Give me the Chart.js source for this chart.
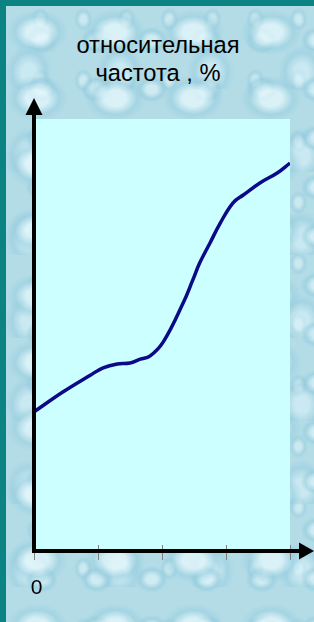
<!DOCTYPE html>
<html>
<head>
<meta charset="utf-8">
<script src="https://cdn.jsdelivr.net/npm/chart.js@4/dist/chart.umd.min.js"></script>
<style>
  html, body { margin: 0; padding: 0; }
  body { width: 314px; height: 622px; background: #0b8383; position: relative; overflow: hidden; }
  /* water-drop backdrop */
  #backdrop {
    position: absolute; left: 6px; top: 6px; right: 0; bottom: 0;
    background-color: #b3dce7;
    background-image:
      radial-gradient(ellipse 40% 35% at 40% 40%, rgba(230,248,252,0.75) 0 35%, rgba(150,205,222,0.5) 70%, transparent 100%),
      radial-gradient(ellipse 30% 28% at 65% 70%, rgba(225,246,250,0.6) 0 30%, rgba(140,198,218,0.45) 70%, transparent 100%),
      radial-gradient(ellipse 26% 34% at 25% 80%, rgba(220,244,250,0.55) 0 30%, rgba(145,200,220,0.4) 70%, transparent 100%),
      radial-gradient(ellipse 22% 20% at 80% 22%, rgba(225,246,250,0.5) 0 30%, rgba(140,198,218,0.35) 70%, transparent 100%);
    background-size: 78px 66px, 55px 49px, 91px 83px, 43px 61px;
  }
  .title {
    position: absolute; left: 6px; right: 0; text-align: center; padding-right: 4px;
    font-family: "Liberation Sans", Arial, sans-serif;
    font-size: 23.7px; color: #000; white-space: pre; line-height: 1;
  }
  #chart { position: absolute; left: 0; top: 0; }
</style>
</head>
<body>
<div id="backdrop"></div>
<div class="title" style="top:34px;">относительная</div>
<div class="title" style="top:62px;">частота , %</div>
<canvas id="chart" width="314" height="622"></canvas>
<script>
'use strict';

// ── Data ──────────────────────────────────────────────────────
const xValues = [0, 0.45, 0.88, 1.08, 1.30, 1.50, 1.66, 1.81, 2.02, 2.33, 2.48, 2.59, 2.75, 2.91, 3.11, 3.27, 3.53, 3.80, 4.00];
const yValues = [32.2, 36.8, 40.7, 42.4, 43.3, 43.5, 44.4, 45.1, 48.4, 57.4, 62.7, 66.7, 71.3, 75.9, 80.6, 82.4, 85.2, 87.5, 89.8];
const xTicks  = [0, 1, 2, 3, 4];
const xTickLabels = ['0', '', '', '', ''];

// ── Plot area fill + arrowed axes ─────────────────────────────
const axesPlugin = {
  id: 'arrowAxes',
  beforeDatasetsDraw(chart) {
    const { ctx, chartArea: a } = chart;
    ctx.save();
    ctx.fillStyle = '#ccffff';
    ctx.fillRect(a.left, a.top, a.right - a.left, a.bottom - a.top);
    ctx.restore();
  },
  afterDatasetsDraw(chart) {
    const { ctx, chartArea: a, scales } = chart;
    const x = scales.x;
    ctx.save();

    // tick marks
    ctx.strokeStyle = '#808080';
    ctx.lineWidth = 1;
    xTicks.forEach(t => {
      const px = Math.round(x.getPixelForValue(t)) + 0.5;
      ctx.beginPath();
      ctx.moveTo(px, a.bottom - 6);
      ctx.lineTo(px, a.bottom + 9);
      ctx.stroke();
    });

    // axes
    ctx.strokeStyle = '#000';
    ctx.lineWidth = 4;
    ctx.beginPath();
    ctx.moveTo(a.left, a.bottom + 2);
    ctx.lineTo(a.left, a.top - 10);
    ctx.moveTo(a.left - 2, a.bottom);
    ctx.lineTo(302, a.bottom);
    ctx.stroke();

    // arrow heads
    ctx.fillStyle = '#000';
    ctx.beginPath();
    ctx.moveTo(a.left, a.top - 21);
    ctx.lineTo(a.left - 8.5, a.top - 4);
    ctx.lineTo(a.left + 8.5, a.top - 4);
    ctx.closePath();
    ctx.fill();
    ctx.beginPath();
    ctx.moveTo(314, a.bottom);
    ctx.lineTo(299, a.bottom - 8.5);
    ctx.lineTo(299, a.bottom + 8.5);
    ctx.closePath();
    ctx.fill();

    // tick labels
    ctx.font = '21px "Liberation Sans", Arial, sans-serif';
    ctx.textAlign = 'center';
    ctx.textBaseline = 'alphabetic';
    xTicks.forEach((t, i) => {
      if (!xTickLabels[i]) return;
      ctx.fillText(xTickLabels[i], x.getPixelForValue(t) + 2.5, 594);
    });
    ctx.restore();
  }
};

new Chart(document.getElementById('chart'), {
  type: 'line',
  data: {
    datasets: [{
      data: xValues.map((v, i) => ({ x: v, y: yValues[i] })),
      borderColor: '#0a0a88',
      borderWidth: 3.5,
      pointRadius: 0,
      tension: 0.4,
      fill: false,
    }],
  },
  options: {
    responsive: false,
    devicePixelRatio: 1,
    animation: false,
    layout: { padding: { left: 34, top: 119, right: 24, bottom: 71 } },
    plugins: { legend: { display: false }, tooltip: { enabled: false }, title: { display: false } },
    scales: {
      x: { type: 'linear', min: 0, max: 4, display: false },
      y: { type: 'linear', min: 0, max: 100, display: false },
    },
  },
  plugins: [axesPlugin],
});
</script>
</body>
</html>
